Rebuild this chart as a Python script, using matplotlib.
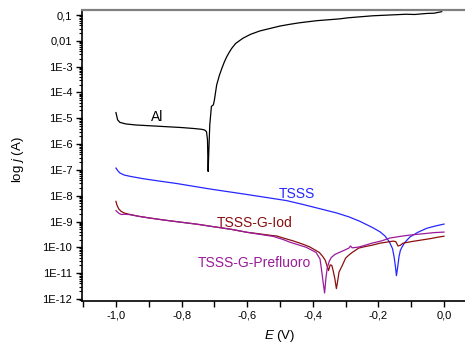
import matplotlib
matplotlib.use("Agg")
import matplotlib.pyplot as plt
import numpy as np
from matplotlib.ticker import FixedLocator, LogLocator, NullFormatter, MultipleLocator

plt.rcParams['font.family'] = ['Liberation Sans', 'DejaVu Sans']
plt.rcParams['mathtext.fontset'] = 'custom'
plt.rcParams['mathtext.rm'] = 'Liberation Sans'
plt.rcParams['mathtext.it'] = 'Liberation Sans:italic'

# ---- data (E in V, log10 of current in A) ----
al_E = [-1.0, -0.995, -0.988, -0.97, -0.94, -0.87, -0.8, -0.76, -0.738, -0.729, -0.724,
        -0.721, -0.719, -0.717, -0.714, -0.709, -0.703, -0.700, -0.693, -0.685, -0.677,
        -0.669, -0.662, -0.654, -0.647, -0.635, -0.613, -0.59, -0.562, -0.53, -0.501, -0.47,
        -0.44, -0.388, -0.318, -0.294, -0.266, -0.217, -0.166, -0.115, -0.09, -0.053, -0.03,
        -0.007]
al_logI = [-4.78, -5.06, -5.16, -5.22, -5.26, -5.31, -5.36, -5.40, -5.43, -5.46, -5.52,
           -5.83, -7.06, -6.3, -5.26, -4.54, -4.48, -4.3, -3.71, -3.35, -3.06,
           -2.8, -2.61, -2.43, -2.29, -2.1, -1.9, -1.75, -1.62, -1.52, -1.43, -1.36,
           -1.30, -1.22, -1.15, -1.11, -1.08, -1.03, -1.0, -0.97, -0.98, -0.94, -0.93,
           -0.87]

tsss_E = [-1.0, -0.994, -0.988, -0.975, -0.957, -0.918, -0.87, -0.814, -0.714, -0.613,
          -0.531, -0.48, -0.43, -0.38, -0.327, -0.29, -0.257, -0.217, -0.195, -0.18, -0.167,
          -0.157, -0.152, -0.148, -0.145, -0.141, -0.137, -0.133, -0.128, -0.12, -0.104,
          -0.08, -0.052, -0.025, 0.0]
tsss_logI = [-6.93, -7.04, -7.12, -7.20, -7.25, -7.34, -7.43, -7.53, -7.74, -7.93,
             -8.09, -8.19, -8.34, -8.50, -8.67, -8.82, -8.99, -9.24, -9.40, -9.56, -9.78,
             -10.05, -10.38, -10.75, -11.1, -10.75, -10.35, -10.12, -9.99, -9.82, -9.6,
             -9.42, -9.26, -9.17, -9.1]

iod_E = [-1.0, -0.997, -0.992, -0.985, -0.975, -0.96, -0.93, -0.9, -0.85, -0.8, -0.75, -0.714,
         -0.65, -0.6, -0.58, -0.55, -0.52, -0.51, -0.49, -0.46, -0.43, -0.41, -0.38, -0.37,
         -0.362, -0.352, -0.347, -0.342, -0.338, -0.333, -0.328, -0.324, -0.32, -0.31, -0.30,
         -0.29, -0.28, -0.26, -0.24, -0.22, -0.195, -0.175, -0.155, -0.147, -0.14, -0.133,
         -0.125, -0.1, -0.07, -0.04, -0.02, 0.0]
iod_logI = [-8.22, -8.36, -8.5, -8.6, -8.67, -8.72, -8.80, -8.86, -8.95, -9.03, -9.11, -9.18,
            -9.30, -9.42, -9.45, -9.50, -9.55, -9.56, -9.64, -9.75, -9.88, -9.98, -10.2, -10.35,
            -10.5, -10.9, -10.68, -10.7, -10.9, -11.2, -11.6, -11.3, -10.96, -10.7, -10.42,
            -10.3, -10.2, -10.03, -9.97, -9.92, -9.84, -9.80, -9.76, -9.78, -9.95, -9.92,
            -9.84, -9.78, -9.72, -9.66, -9.61, -9.57]

pf_E = [-1.0, -0.995, -0.99, -0.983, -0.975, -0.96, -0.93, -0.9, -0.85, -0.8, -0.75, -0.714,
        -0.65, -0.6, -0.55, -0.52, -0.51, -0.49, -0.47, -0.44, -0.42, -0.39, -0.378, -0.373,
        -0.369, -0.364, -0.36, -0.356, -0.35, -0.344, -0.333, -0.323, -0.305, -0.29, -0.285,
        -0.28, -0.26, -0.24, -0.22, -0.19, -0.165, -0.13, -0.10, -0.06, -0.03, 0.0]
pf_logI = [-8.58, -8.64, -8.69, -8.73, -8.72, -8.73, -8.80, -8.86, -8.95, -9.03, -9.11, -9.18,
           -9.30, -9.42, -9.52, -9.58, -9.62, -9.70, -9.80, -9.92, -10.0, -10.2, -10.45, -10.9,
           -11.3, -11.77, -11.2, -10.8, -10.55, -10.4, -10.28, -10.22, -10.12, -10.03, -9.95,
           -10.02, -9.99, -9.92, -9.84, -9.75, -9.64, -9.57, -9.52, -9.47, -9.43, -9.41]

series = [
    ("Al", al_E, al_logI, "#000000"),
    ("TSSS", tsss_E, tsss_logI, "#2626ff"),
    ("TSSS-G-Iod", iod_E, iod_logI, "#8b0f0f"),
    ("TSSS-G-Prefluoro", pf_E, pf_logI, "#9a1b9a"),
]

ytick_vals = [1e-1, 1e-2, 1e-3, 1e-4, 1e-5, 1e-6, 1e-7, 1e-8, 1e-9, 1e-10, 1e-11, 1e-12]
ytick_labels = ["0,1", "0,01", "1E-3", "1E-4", "1E-5", "1E-6", "1E-7", "1E-8", "1E-9",
                "1E-10", "1E-11", "1E-12"]
xtick_vals = [-1.0, -0.8, -0.6, -0.4, -0.2, 0.0]
xtick_labels = ["-1,0", "-0,8", "-0,6", "-0,4", "-0,2", "0,0"]

fig = plt.figure(figsize=(4.65, 3.47), dpi=100)
ax = fig.add_axes([82/465, 1 - 301/347, 1 - 82/465, (301 - 10)/347])

for name, E, L, c in series:
    ax.plot(E, 10.0 ** np.array(L), color=c, lw=0.9)

ax.set_yscale('log')
ax.set_xlim(-1.1035, 0.064)
ax.set_ylim(10 ** -12.08, 10 ** -0.806)

ax.yaxis.set_major_locator(FixedLocator(ytick_vals))
ax.set_yticklabels(ytick_labels)
ax.yaxis.set_minor_locator(LogLocator(base=10, subs=np.arange(2, 10), numticks=30))
ax.yaxis.set_minor_formatter(NullFormatter())
ax.set_xticks(xtick_vals)
ax.set_xticklabels(xtick_labels)
ax.xaxis.set_minor_locator(MultipleLocator(0.1))

ax.tick_params(axis='both', which='major', direction='out', length=4, width=1,
               labelsize=8, pad=3)
ax.tick_params(axis='both', which='minor', direction='out', length=2.5, width=0.8)
ax.tick_params(axis='x', which='minor', length=4, width=1)

ax.spines['right'].set_visible(False)
ax.spines['top'].set_color('#808080')
ax.spines['top'].set_linewidth(1.6)
ax.spines['left'].set_linewidth(1.2)
ax.spines['bottom'].set_linewidth(1.2)

ax.set_ylabel('log $j$ (A)', fontsize=9.5, va='center')
ax.yaxis.set_label_coords(-0.168, 0.485)
ax.set_xlabel('$E$ (V)', fontsize=9.5, va='center')
ax.xaxis.set_label_coords(0.517, -0.12)

ax.text(-0.875, 10 ** -4.97, "Al", color="#000000", fontsize=10, ha='center', va='center')
ax.text(-0.449, 10 ** -7.92, "TSSS", color="#2626ff", fontsize=10, ha='center', va='center')
ax.text(-0.577, 10 ** -9.04, "TSSS-G-Iod", color="#8b0f0f", fontsize=10, ha='center', va='center')
ax.text(-0.577, 10 ** -10.62, "TSSS-G-Prefluoro", color="#9a1b9a", fontsize=10, ha='center', va='center')

fig.savefig("out.png", dpi=100)
